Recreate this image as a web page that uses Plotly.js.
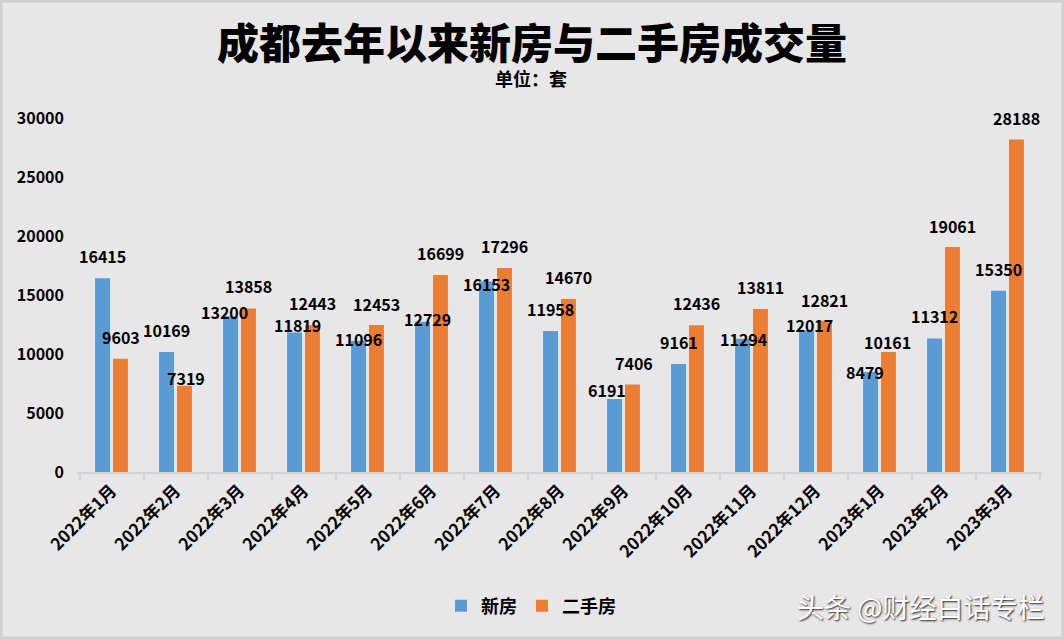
<!DOCTYPE html>
<html><head><meta charset="utf-8">
<script src="https://cdn.plot.ly/plotly-3.0.1.min.js"></script>
<style>html,body{margin:0;padding:0;background:#e7e7e7;}#chart{width:1064px;height:639px;}</style>
</head><body><div id="chart"></div>
<script>
const categories = ["2022年1月","2022年2月","2022年3月","2022年4月","2022年5月","2022年6月","2022年7月","2022年8月","2022年9月","2022年10月","2022年11月","2022年12月","2023年1月","2023年2月","2023年3月"];
const newHomes = [16415,10169,13200,11819,11096,12729,16153,11958,6191,9161,11294,12017,8479,11312,15350];
const secondHand = [9603,7319,13858,12443,12453,16699,17296,14670,7406,12436,13811,12821,10161,19061,28188];
const seriesNames = ["新房","二手房"];
const yTicks = [0,5000,10000,15000,20000,25000,30000];

// label nudges in pixels (styling only): [dx, dy-up]
const newLabelNudge = [[0,22],[0,22],[-6.5,4],[2.5,8],[0,2.5],[4.5,3],[0,-3],[0,21.5],[-8,9],[0,21.5],[1,0],[3,5],[-6,0],[0,23],[0,21.5]];
const secondLabelNudge = [[0,22],[1.5,8],[0,22],[0,22],[0,21.5],[0,21.5],[0,21.5],[0,21.5],[1,22],[0,22],[0,22],[0,21],[-1.5,10.5],[0,21.5],[0,21.5]];

const F = '"Noto Sans CJK SC", "Noto Sans", sans-serif';
const blue = '#5b9bd5', orange = '#ed7d31';

const traces = [
  {type:'bar', name:seriesNames[0], x:categories, y:newHomes, marker:{color:blue}, hoverinfo:'x+y'},
  {type:'bar', name:seriesNames[1], x:categories, y:secondHand, marker:{color:orange}, hoverinfo:'x+y'}
];

const annotations = [];
const lblFont = {family:F, size:16, color:'#000', weight:700};
categories.forEach((c,i)=>{
  annotations.push({x:c, y:newHomes[i], xref:'x', yref:'y', text:String(newHomes[i]), showarrow:false,
    xshift:-9+newLabelNudge[i][0], yshift:newLabelNudge[i][1], yanchor:'middle', font:lblFont});
  annotations.push({x:c, y:secondHand[i], xref:'x', yref:'y', text:String(secondHand[i]), showarrow:false,
    xshift:9+secondLabelNudge[i][0], yshift:secondLabelNudge[i][1], yanchor:'middle', font:lblFont});
});
annotations.push({xref:'paper', yref:'paper', x:(531-77)/965, y:1, yanchor:'middle', yshift:40, text:'单位：套', showarrow:false,
  font:{family:F, size:18, color:'#000', weight:700}});
annotations.push({xref:'paper', yref:'paper', x:(1047-77)/965, xanchor:'right', y:0, yshift:-134, yanchor:'middle', text:'头条 @财经白话专栏', showarrow:false,
  font:{family:F, size:27, color:'#ffffff', shadow:'1px 1px 2px #222'}});

const layout = {
  width:1064, height:639,
  paper_bgcolor:'#e7e7e7', plot_bgcolor:'#e7e7e7',
  margin:{l:77, r:22, t:118, b:167, autoexpand:false},
  title:{text:'成都去年以来新房与二手房成交量', x:532/1064, xanchor:'center', xref:'container', y:1-44/639, yanchor:'middle', yref:'container',
    font:{family:F, size:42, color:'#000', weight:900}},
  barmode:'group', bargap:0.44, bargroupgap:0.167,
  showlegend:true,
  legend:{orientation:'h', x:531/1064, xanchor:'center', xref:'container', y:33/639, yanchor:'middle', yref:'container',
    font:{family:F, size:18, color:'#000', weight:700}, itemwidth:30, traceorder:'normal', bgcolor:'rgba(0,0,0,0)'},
  xaxis:{type:'category', automargin:false, tickangle:-45, showline:true, linecolor:'#d4d4d4', linewidth:2, ticks:'outside', tickson:'boundaries',
    ticklen:6, tickcolor:'#d4d4d4', tickwidth:2, showgrid:false, zeroline:false,
    tickfont:{family:F, size:17, color:'#000', weight:700}},
  yaxis:{range:[0,30000], automargin:false, tickvals:yTicks, ticktext:yTicks.map(String), showgrid:false, zeroline:false, showline:false,
    ticks:'', ticklabelstandoff:12, tickfont:{family:F, size:16, color:'#000', weight:700}},
  annotations:annotations,
  shapes:[{type:'rect', xref:'paper', yref:'paper', x0:-76/965, x1:1+21/965, y0:-166/354, y1:1+117/354,
    line:{color:'#d0d0d0', width:3}, fillcolor:'rgba(0,0,0,0)'}]
};
Plotly.newPlot('chart', traces, layout, {displayModeBar:false, staticPlot:true});
</script></body></html>
